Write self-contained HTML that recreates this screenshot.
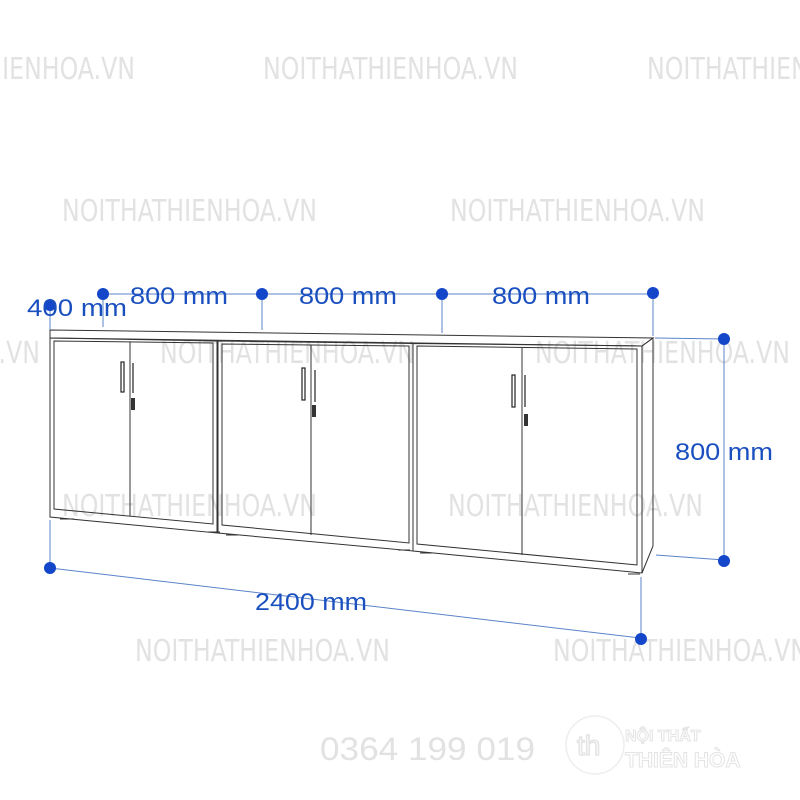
<!DOCTYPE html>
<html><head><meta charset="utf-8"><style>html,body{margin:0;padding:0;background:#fff}svg{display:block}</style></head>
<body>
<svg width="800" height="800" viewBox="0 0 800 800" xmlns="http://www.w3.org/2000/svg" font-family="Liberation Sans, sans-serif">
<g fill="#e2e2e2" font-size="30" font-family="DejaVu Sans Condensed, Liberation Sans Narrow, sans-serif">
<text x="263" y="79" textLength="255" lengthAdjust="spacingAndGlyphs">NOITHATHIENHOA.VN</text>
<text x="-120" y="79" textLength="255" lengthAdjust="spacingAndGlyphs">NOITHATHIENHOA.VN</text>
<text x="647" y="79" textLength="255" lengthAdjust="spacingAndGlyphs">NOITHATHIENHOA.VN</text>
<text x="62" y="221" textLength="255" lengthAdjust="spacingAndGlyphs">NOITHATHIENHOA.VN</text>
<text x="450" y="221" textLength="255" lengthAdjust="spacingAndGlyphs">NOITHATHIENHOA.VN</text>
<text x="-215" y="363" textLength="255" lengthAdjust="spacingAndGlyphs">NOITHATHIENHOA.VN</text>
<text x="160" y="363" textLength="255" lengthAdjust="spacingAndGlyphs">NOITHATHIENHOA.VN</text>
<text x="535" y="363" textLength="255" lengthAdjust="spacingAndGlyphs">NOITHATHIENHOA.VN</text>
<text x="62" y="516" textLength="255" lengthAdjust="spacingAndGlyphs">NOITHATHIENHOA.VN</text>
<text x="448" y="516" textLength="255" lengthAdjust="spacingAndGlyphs">NOITHATHIENHOA.VN</text>
<text x="135" y="661" textLength="255" lengthAdjust="spacingAndGlyphs">NOITHATHIENHOA.VN</text>
<text x="553" y="661" textLength="255" lengthAdjust="spacingAndGlyphs">NOITHATHIENHOA.VN</text>
</g>
<text x="320" y="760" font-size="32" fill="#e2e2e2" textLength="215" lengthAdjust="spacingAndGlyphs">0364 199 019</text>
<circle cx="595" cy="745" r="29" fill="none" stroke="#eee" stroke-width="1.5"/>
<text x="577" y="755" font-size="28" fill="none" stroke="#e4e4e4" stroke-width="1.5">th</text>
<text x="625" y="741" font-size="16" font-weight="bold" fill="#fff" stroke="#e4e4e4" stroke-width="1">NỘI THẤT</text>
<text x="625" y="767" font-size="21" font-weight="bold" fill="#fff" stroke="#e4e4e4" stroke-width="1">THIÊN HÒA</text>

<g fill="none" stroke="#333" stroke-width="1">
<polygon points="50,330 653,338 642,346 50,338"/>
<polygon points="50,338 217,341 217,533 50,517"/>
<polygon points="54,341 213,343 213,524 54,509"/>
<line x1="130" y1="342" x2="130" y2="516"/>
<polygon points="218,341 413,343.5 413,551 218,533"/>
<polygon points="222,344 409,346 409,543 222,525"/>
<line x1="311" y1="345" x2="311" y2="535"/>
<polygon points="413,343.5 642,346 642,573 413,551"/>
<polygon points="417,346 637,349 637,565 417,544"/>
<line x1="522" y1="348" x2="522" y2="555"/>
<polygon points="642,346 653,338 653,546 642,573"/>
<path d="M60,519 h14 M208,532 h12 M226,535 h12 M398,550 h12 M420,553 h12 M628,574 h12"/>
</g>
<g fill="none" stroke="#222" stroke-width="1.2">
<rect x="121" y="362" width="3" height="30"/><path d="M133,363 v30"/>
<rect x="302" y="368" width="3" height="32"/><path d="M315,370 v32"/>
<rect x="512" y="375" width="3" height="32"/><path d="M525,375 v32"/>
</g>
<g fill="#333"><rect x="131" y="398" width="4" height="12"/><rect x="312" y="405" width="4" height="12"/><rect x="524" y="414" width="4" height="12"/></g>

<g stroke="#5b83c9" stroke-width="1" fill="none">
<line x1="103" y1="294" x2="653" y2="294"/>
<line x1="103" y1="294" x2="103" y2="327"/>
<line x1="262" y1="294" x2="262" y2="330"/>
<line x1="442" y1="294" x2="442" y2="333"/>
<line x1="653" y1="294" x2="653" y2="336"/>
<line x1="50" y1="305" x2="50" y2="330"/>
<line x1="724" y1="339" x2="724" y2="560"/>
<line x1="655" y1="338" x2="724" y2="339"/>
<line x1="656" y1="555" x2="724" y2="560"/>
<line x1="50" y1="568" x2="640" y2="638"/>
<line x1="50" y1="520" x2="50" y2="568"/>
<line x1="641" y1="577" x2="641" y2="638"/>
</g>
<g fill="#1346c8">
<circle cx="103" cy="294" r="6"/><circle cx="262" cy="294" r="6"/><circle cx="442" cy="294" r="6"/><circle cx="653" cy="293" r="6"/>
<circle cx="50" cy="305" r="6"/>
<circle cx="724" cy="339" r="6"/><circle cx="724" cy="561" r="6"/>
<circle cx="50" cy="568" r="6"/><circle cx="641" cy="639" r="6"/>
</g>
<g fill="#1a4fbf" font-size="24">
<text x="130" y="304" textLength="98" lengthAdjust="spacingAndGlyphs">800 mm</text>
<text x="299" y="304" textLength="98" lengthAdjust="spacingAndGlyphs">800 mm</text>
<text x="492" y="304" textLength="98" lengthAdjust="spacingAndGlyphs">800 mm</text>
<text x="27" y="316" textLength="100" lengthAdjust="spacingAndGlyphs">400 mm</text>
<text x="675" y="460" textLength="98" lengthAdjust="spacingAndGlyphs">800 mm</text>
<text x="255" y="610" textLength="112" lengthAdjust="spacingAndGlyphs">2400 mm</text>
</g>
</svg>
</body></html>
